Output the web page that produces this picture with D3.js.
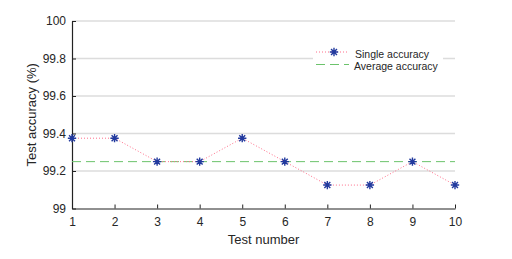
<!DOCTYPE html>
<html>
<head>
<meta charset="utf-8">
<script src="https://cdn.jsdelivr.net/npm/d3@7"></script>
<style>
  body { margin: 0; background: #fff; }
  text { font-family: "Liberation Sans", Arial, sans-serif; fill: #262626; }
</style>
</head>
<body>
<svg id="chart" width="512" height="259"></svg>
<script>
// data
let tests = [1, 2, 3, 4, 5, 6, 7, 8, 9, 10],
    single_acc = [99.375, 99.375, 99.25, 99.25, 99.375, 99.25, 99.125, 99.125, 99.25, 99.125],
    avg_acc = d3.mean(single_acc),
    y_ticks = [99, 99.2, 99.4, 99.6, 99.8, 100],
    y_tick_labels = ["99", "99.2", "99.4", "99.6", "99.8", "100"];

let margin = {left: 72, right: 57, top: 21, bottom: 50.5},
    width = 512 - margin.left - margin.right,
    height = 259 - margin.top - margin.bottom;

let svg = d3.select("#chart"),
    g = svg.append("g").attr("transform", `translate(${margin.left},${margin.top})`);

let x = d3.scaleLinear().domain([1, 10]).range([0, width]),
    y = d3.scaleLinear().domain([99, 100]).range([height, 0]);

// 8 armed star like matlab '*'
let star8 = {
  draw(context, size) {
    let r = Math.sqrt(size) / 2;
    for (let k = 0; k < 4; k++) {
      let a = k * Math.PI / 4,
          dx = r * Math.cos(a), dy = r * Math.sin(a);
      context.moveTo(-dx, -dy);
      context.lineTo(dx, dy);
    }
  }
}
let star = d3.symbol().type(star8).size(70)

// grid lines
g.append("g")
  .selectAll("line")
  .data(y_ticks.slice(1))
  .enter().append("line")
  .attr("x1", 0).attr("x2", width)
  .attr("y1", d => y(d)).attr("y2", d => y(d))
  .attr("stroke", "#dcdcdc")
  .attr("stroke-width", 1.5)

// axes
let xAxis = g.append("g")
  .attr("transform", `translate(0,${height})`)
  .call(d3.axisBottom(x).tickValues(tests).tickFormat(d3.format("d")).tickSizeInner(-4).tickSizeOuter(0).tickPadding(9))
let yAxis = g.append("g")
  .call(d3.axisLeft(y).tickValues(y_ticks).tickFormat((d, i) => y_tick_labels[i]).tickSizeInner(-4).tickSizeOuter(0).tickPadding(6))

for (let ax of [xAxis, yAxis]) {
  ax.select(".domain").attr("stroke", "#222").attr("stroke-width", 1.2)
  ax.selectAll(".tick line").attr("stroke", "#222")
  ax.selectAll("text").style("font-size", "12px").attr("fill", "#262626")
}

// average line
g.append("line")
  .attr("x1", 0).attr("x2", width)
  .attr("y1", y(avg_acc)).attr("y2", y(avg_acc))
  .attr("stroke", "#6cc36c")
  .attr("stroke-width", 1)
  .attr("stroke-dasharray", "9,5")

// single accuracy line
let line = d3.line()
  .x((d, i) => x(tests[i]))
  .y(d => y(d))
g.append("path")
  .datum(single_acc)
  .attr("d", line)
  .attr("fill", "none")
  .attr("stroke", "#ff6f8a")
  .attr("stroke-width", 1)
  .attr("stroke-dasharray", "1,2")

g.append("g")
  .selectAll("path")
  .data(single_acc)
  .enter().append("path")
  .attr("d", star)
  .attr("transform", (d, i) => `translate(${x(tests[i])},${y(d)})`)
  .attr("fill", "none")
  .attr("stroke", "#223a9e")
  .attr("stroke-width", 1.4)

// legend
let legend = g.append("g").attr("transform", `translate(${313 - margin.left},${44 - margin.top})`)
legend.append("rect")
  .attr("width", 130).attr("height", 30)
  .attr("fill", "#fff")
legend.append("line")
  .attr("x1", 3).attr("x2", 36).attr("y1", 8).attr("y2", 8)
  .attr("stroke", "#ff6f8a").attr("stroke-dasharray", "1,2")
legend.append("path")
  .attr("d", star)
  .attr("transform", "translate(21,8)")
  .attr("fill", "none").attr("stroke", "#223a9e").attr("stroke-width", 1.4)
legend.append("line")
  .attr("x1", 3).attr("x2", 36).attr("y1", 20.5).attr("y2", 20.5)
  .attr("stroke", "#6cc36c").attr("stroke-dasharray", "9,5")
legend.append("text")
  .attr("x", 42).attr("y", 13.5)
  .style("font-size", "10.5px")
  .text("Single accuracy")
legend.append("text")
  .attr("x", 41).attr("y", 25.5)
  .style("font-size", "10.5px")
  .text("Average accuracy")

// axis titles
svg.append("text")
  .attr("x", margin.left + width / 2).attr("y", 243.5)
  .attr("text-anchor", "middle")
  .style("font-size", "13px")
  .text("Test number")
svg.append("text")
  .attr("transform", `translate(36,${margin.top + height / 2}) rotate(-90)`)
  .attr("text-anchor", "middle")
  .style("font-size", "13px")
  .text("Test accuracy (%)")
</script>
</body>
</html>
